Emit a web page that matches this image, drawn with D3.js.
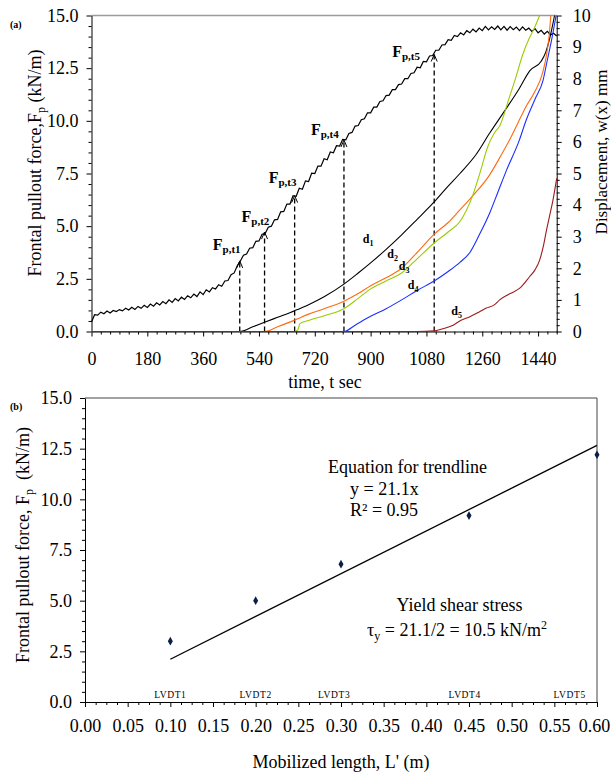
<!DOCTYPE html>
<html><head><meta charset="utf-8">
<script src="https://cdn.jsdelivr.net/npm/d3@7"></script>
<style>
html,body{margin:0;padding:0;background:#fff;}
svg{display:block;font-family:"Liberation Serif","Times New Roman",serif;}
</style></head><body>
<svg id="c" width="611" height="774"></svg>
<script>
// ---------- Panel (a) data ----------
const forceTime = d3.range(0, 1501, 10);
const forceValues = [
0.45,0.80,0.78,0.92,0.84,0.97,0.88,1.00,0.95,1.04,
0.98,1.10,1.02,1.15,1.05,1.19,1.10,1.24,1.14,1.30,
1.20,1.36,1.26,1.42,1.32,1.50,1.38,1.56,1.45,1.63,
1.52,1.70,1.60,1.78,1.66,1.88,1.75,1.98,1.88,2.08,
2.02,2.22,2.15,2.40,2.42,2.70,2.78,3.12,3.35,3.62,
3.68,3.95,3.98,4.28,4.30,4.62,4.65,4.95,5.00,5.30,
5.32,5.68,5.70,6.05,6.05,6.45,6.42,6.80,6.75,7.15,
7.12,7.52,7.50,7.85,7.85,8.20,8.15,8.52,8.48,8.82,
8.80,9.12,9.10,9.40,9.45,9.75,9.78,10.05,10.10,10.38,
10.38,10.65,10.65,10.92,10.95,11.20,11.22,11.48,11.48,11.72,
11.75,12.00,12.00,12.25,12.28,12.55,12.52,12.82,12.80,13.08,
13.10,13.35,13.35,13.60,13.62,13.85,13.82,14.05,14.00,14.18,
14.08,14.28,14.18,14.35,14.22,14.40,14.28,14.48,14.32,14.46,
14.34,14.50,14.32,14.48,14.30,14.47,14.33,14.45,14.28,14.46,
14.30,14.40,14.24,14.38,14.18,14.30,14.12,14.25,14.08,14.16,
14.02];

const pulloutTimes  = [478, 558, 655, 814, 1105];
const pulloutForces = [3.35, 4.72, 6.45, 9.09, 13.15];
const pulloutSubs   = ["p,t1","p,t2","p,t3","p,t4","p,t5"];

const d1T = [0,478,520,558,600,655,700,750,814,860,900,950,1000,1050,1105,1150,1188,1240,1284,1330,1380,1413,1450,1465,1478,1488,1493];
const d1V = [0,0,0.15,0.29,0.45,0.66,0.85,1.1,1.5,1.85,2.17,2.6,3.06,3.55,4.1,4.6,5.0,5.6,6.28,6.95,7.7,8.25,8.55,8.85,9.3,9.75,10];
const d2T = [0,558,600,655,700,750,814,860,900,950,1000,1050,1105,1150,1188,1230,1280,1322,1350,1375,1400,1430,1455,1468,1476,1481];
const d2V = [0,0,0.15,0.36,0.55,0.72,0.96,1.2,1.45,1.7,2.0,2.5,3.08,3.45,3.85,4.3,4.9,5.6,6.1,6.6,7.1,7.6,8.2,8.8,9.4,10];
const d3T = [0,655,665,672,700,750,814,860,900,950,1000,1050,1105,1150,1188,1229,1255,1277,1300,1316,1347,1370,1390,1410,1428,1445];
const d3V = [0,0,0.05,0.25,0.35,0.5,0.72,1.05,1.35,1.6,1.85,2.3,2.8,3.15,3.48,4.3,5.1,5.83,6.3,6.5,7.4,8.1,8.75,9.25,9.6,10];
const d4T = [0,814,850,900,950,1000,1050,1105,1150,1188,1220,1250,1284,1310,1338,1379,1402,1430,1456,1470,1485,1498];
const d4V = [0,0,0.2,0.48,0.72,1.0,1.3,1.6,1.9,2.19,2.5,3.05,3.75,4.4,5.1,6.04,6.7,7.35,7.95,8.6,9.3,10];
const d5T = [0,1050,1105,1130,1166,1190,1220,1250,1273,1300,1316,1350,1381,1413,1430,1445,1457,1467,1478,1488,1500];
const d5V = [0,0,0.02,0.08,0.2,0.35,0.47,0.62,0.74,0.85,1.0,1.2,1.37,1.74,1.95,2.26,2.7,3.2,3.7,4.16,4.85];
const dispNames = ["1","2","3","4","5"];
const dispLabelT = [875, 954, 991, 1020, 1160];
const dispLabelV = [2.8, 2.33, 1.95, 1.34, 0.52];

const xTicksA  = [0,180,360,540,720,900,1080,1260,1440];
const yTicksA  = [0,2.5,5,7.5,10,12.5,15];
const yTicksAR = [0,1,2,3,4,5,6,7,8,9,10];

// ---------- Panel (b) data ----------
const mobilizedLength = [0.1, 0.2, 0.3, 0.45, 0.6];
const frontalForce    = [3.0, 5.0, 6.8, 9.2, 12.2];
const lvdtNames       = ["LVDT1","LVDT2","LVDT3","LVDT4","LVDT5"];
const lvdtLabelX      = [0.1, 0.2, 0.292, 0.445, 0.568];
const trendSlope = 21.1;
const trendX = [0.1, 0.6];
const xTicksB = [0,0.05,0.1,0.15,0.2,0.25,0.3,0.35,0.4,0.45,0.5,0.55,0.6];
const yTicksB = [0,2.5,5,7.5,10,12.5,15];

// ---------- styles ----------
const dispColors = ["#000000","#ff6a10","#99cc00","#1a2eff","#9b1b1b"];
const fLabelDx = [-27,-23,-26,-33,-42];
const fLabelDy = [-11,-10,-12.6,-5,2.6];

const svg = d3.select("#c");

const xA  = d3.scaleLinear().domain([0,1500]).range([91.5,556.7]);
const yAL = d3.scaleLinear().domain([0,15]).range([331.5,15.5]);
const yAR = d3.scaleLinear().domain([0,10]).range([331.5,15.5]);
const xB  = d3.scaleLinear().domain([0,0.6]).range([85,597]);
const yB  = d3.scaleLinear().domain([0,15]).range([702,398]);

function styleAxis(g, fs){
  g.attr("font-family", null).attr("font-size", fs);
  g.selectAll("text").attr("fill","#000");
  g.selectAll("line,path").attr("stroke","#000").attr("stroke-width",1);
}
function minorVals(lo, hi, step, majors){
  const out=[]; for(let v=lo; v<=hi+1e-9; v+=step){ const r=+v.toFixed(4); if(!majors.some(m=>Math.abs(m-r)<1e-6)) out.push(r);} return out;
}
function minorAxis(axisGen, transform){
  svg.append("g").attr("transform",transform).call(axisGen.tickFormat("")).call(g=>{g.select(".domain").remove(); g.selectAll("line").attr("stroke","#000");});
}

// ===== Panel (a) =====
svg.append("line").attr("x1",xA(0)).attr("x2",xA(1500)).attr("y1",yAL(15)).attr("y2",yAL(15))
  .attr("stroke","#9a9a9a").attr("stroke-width",1.5);

svg.append("g").attr("transform",`translate(${xA(0)},0)`)
  .call(d3.axisLeft(yAL).tickValues(yTicksA).tickFormat(d3.format(".1f")).tickSize(5).tickSizeOuter(0).tickPadding(8))
  .call(g=>styleAxis(g,18));
minorAxis(d3.axisLeft(yAL).tickValues(minorVals(0,15,0.5,yTicksA)).tickSize(3), `translate(${xA(0)},0)`);

svg.append("g").attr("transform",`translate(${xA(1500)},0)`)
  .call(d3.axisRight(yAR).tickValues(yTicksAR).tickFormat(d3.format("d")).tickSize(5).tickSizeOuter(0).tickPadding(11))
  .call(g=>styleAxis(g,18));
minorAxis(d3.axisRight(yAR).tickValues(minorVals(0,10,0.2,yTicksAR)).tickSize(3), `translate(${xA(1500)},0)`);

svg.append("g").attr("transform",`translate(0,${yAL(0)})`)
  .call(d3.axisBottom(xA).tickValues(xTicksA).tickFormat(d3.format("d")).tickSize(5).tickSizeOuter(0).tickPadding(16))
  .call(g=>styleAxis(g,18));
minorAxis(d3.axisBottom(xA).tickValues(minorVals(0,1500,30,xTicksA)).tickSize(3), `translate(0,${yAL(0)})`);

// dashed verticals + arrowheads
pulloutTimes.forEach((t,i)=>{
  const x=xA(t), y=yAL(pulloutForces[i]);
  svg.append("line").attr("x1",x).attr("x2",x).attr("y1",yAL(0)).attr("y2",y)
    .attr("stroke","#000").attr("stroke-width",1.3).attr("stroke-dasharray","5,3");
  svg.append("path").attr("d",`M${x-3},${y+7}L${x},${y}L${x+3},${y+7}`)
    .attr("fill","none").attr("stroke","#000").attr("stroke-width",1);
});

// force curve
const forceLine = d3.line().x(d=>xA(d[0])).y(d=>yAL(d[1]));
svg.append("path").datum(d3.zip(forceTime, forceValues)).attr("d",forceLine)
  .attr("fill","none").attr("stroke","#000").attr("stroke-width",1.2);

// displacement curves
const dispT=[d1T,d2T,d3T,d4T,d5T], dispV=[d1V,d2V,d3V,d4V,d5V];
const dispLine = d3.line().x(d=>xA(d[0])).y(d=>yAR(d[1])).curve(d3.curveMonotoneX);
dispT.forEach((ts,i)=>{
  svg.append("path").datum(d3.zip(ts,dispV[i])).attr("d",dispLine)
    .attr("fill","none").attr("stroke",dispColors[i]).attr("stroke-width",1.1);
});

// labels Fp,ti
pulloutTimes.forEach((t,i)=>{
  const tx = svg.append("text").attr("x",xA(t)+fLabelDx[i]).attr("y",yAL(pulloutForces[i])+fLabelDy[i])
    .attr("font-weight","bold").attr("font-size",16).attr("fill","#000");
  tx.append("tspan").text("F");
  tx.append("tspan").attr("font-size",11).attr("dy",3).text(pulloutSubs[i]);
});
// labels d_i
dispNames.forEach((n,i)=>{
  const tx = svg.append("text").attr("x",xA(dispLabelT[i])).attr("y",yAR(dispLabelV[i]))
    .attr("font-weight","bold").attr("font-size",12).attr("fill","#000");
  tx.append("tspan").text("d");
  tx.append("tspan").attr("font-size",8).attr("dy",3).text(n);
});

svg.append("text").attr("x",10).attr("y",28).attr("font-size",10).attr("font-weight","bold").text("(a)");
svg.append("text").attr("x",325).attr("y",388).attr("text-anchor","middle").attr("font-size",18).text("time, t sec");
{
  const t = svg.append("text").attr("transform","translate(41,163) rotate(-90)").attr("text-anchor","middle").attr("font-size",18);
  t.append("tspan").text("Frontal pullout force,F");
  t.append("tspan").attr("font-size",12).attr("dy",4).text("p");
  t.append("tspan").attr("dy",-4).text("\u00a0(kN/m)");
}
svg.append("text").attr("transform","translate(607,152) rotate(-90)").attr("text-anchor","middle").attr("font-size",17).text("Displacement, w(x) mm");

// ===== Panel (b) =====
svg.append("line").attr("x1",xB(0)).attr("x2",xB(0.6)).attr("y1",yB(15)).attr("y2",yB(15)).attr("stroke","#444").attr("stroke-width",1);
svg.append("line").attr("x1",xB(0.6)).attr("x2",xB(0.6)).attr("y1",yB(15)).attr("y2",yB(0)).attr("stroke","#444").attr("stroke-width",1);

svg.append("g").attr("transform",`translate(${xB(0)},0)`)
  .call(d3.axisLeft(yB).tickValues(yTicksB).tickFormat(d3.format(".1f")).tickSize(5).tickSizeOuter(0).tickPadding(8))
  .call(g=>styleAxis(g,18));
minorAxis(d3.axisLeft(yB).tickValues(minorVals(0,15,0.5,yTicksB)).tickSize(3), `translate(${xB(0)},0)`);

svg.append("g").attr("transform",`translate(0,${yB(0)})`)
  .call(d3.axisBottom(xB).tickValues(xTicksB).tickFormat(d3.format(".2f")).tickSize(5).tickSizeOuter(0).tickPadding(12))
  .call(g=>styleAxis(g,18))
  .call(g=>g.selectAll(".tick text").filter(d=>d>0.59).attr("dx",-3));
minorAxis(d3.axisBottom(xB).tickValues(minorVals(0,0.6,0.0125,xTicksB)).tickSize(3), `translate(0,${yB(0)})`);

// trendline
svg.append("path").datum(trendX).attr("d", d3.line().x(d=>xB(d)).y(d=>yB(trendSlope*d)))
  .attr("fill","none").attr("stroke","#000").attr("stroke-width",1.3);

// points
svg.selectAll(".pt").data(d3.zip(mobilizedLength, frontalForce)).join("path")
  .attr("transform",d=>`translate(${xB(d[0])},${yB(d[1])})`)
  .attr("d", d3.symbol(d3.symbolDiamond, 22))
  .attr("fill","#0b1f48");

// LVDT labels
lvdtNames.forEach((n,i)=>{
  svg.append("text").attr("x",xB(lvdtLabelX[i])).attr("y",yB(0)-4).attr("text-anchor","middle")
    .attr("font-size",9.5).attr("letter-spacing",0.6).text(n);
});

svg.append("text").attr("x",10).attr("y",410).attr("font-size",10).attr("font-weight","bold").text("(b)");
svg.append("text").attr("x",407.5).attr("y",473).attr("text-anchor","middle").attr("font-size",18).text("Equation for trendline");
svg.append("text").attr("x",350).attr("y",495).attr("font-size",18).text("y = 21.1x");
svg.append("text").attr("x",350).attr("y",516).attr("font-size",18).text("R\u00b2 = 0.95");
svg.append("text").attr("x",459.5).attr("y",611).attr("text-anchor","middle").attr("font-size",18).text("Yield shear stress");
{
  const t = svg.append("text").attr("x",367).attr("y",636).attr("font-size",18);
  t.append("tspan").text("\u03c4");
  t.append("tspan").attr("font-size",12).attr("dy",4).text("y");
  t.append("tspan").attr("dy",-4).text(" = 21.1/2 = 10.5 kN/m");
  t.append("tspan").attr("font-size",12).attr("dy",-7).text("2");
}
svg.append("text").attr("x",341).attr("y",768).attr("text-anchor","middle").attr("font-size",18).text("Mobilized length, L' (m)");
{
  const t = svg.append("text").attr("transform","translate(29,545) rotate(-90)").attr("text-anchor","middle").attr("font-size",18);
  t.append("tspan").text("Frontal pullout force, F");
  t.append("tspan").attr("font-size",12).attr("dy",4).text("p");
  t.append("tspan").attr("dy",-4).text("\u00a0\u00a0(kN/m)");
}
</script>
</body></html>
